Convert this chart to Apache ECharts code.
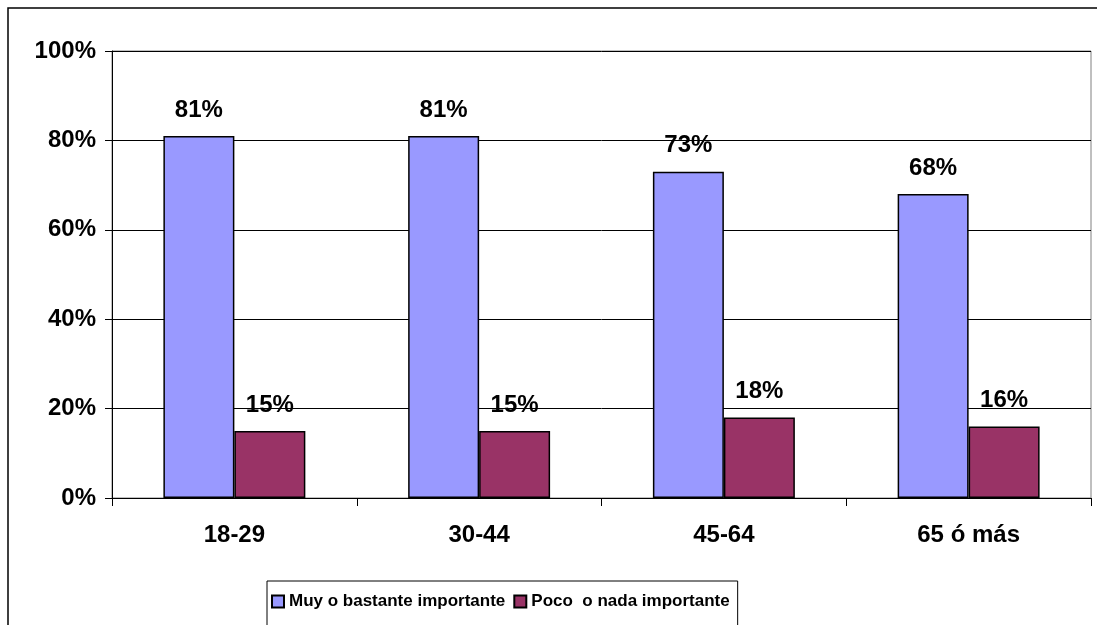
<!DOCTYPE html>
<html>
<head>
<meta charset="utf-8">
<script src="https://cdn.jsdelivr.net/npm/echarts@6/dist/echarts.min.js"></script>
<style>
html, body { margin:0; padding:0; background:#fff; }
#chart { width:1097px; height:625px; }
</style>
</head>
<body>
<div id="chart"></div>
<script>
// categorias y valores (porcentaje)
var categorias = ['18-29', '30-44', '45-64', '65 ó más'];
var muyImportante = [81, 81, 73, 68];
var pocoImportante = [15, 15, 18, 16];
var nombres = ['Muy o bastante importante', 'Poco  o nada importante'];

var chart = echarts.init(document.getElementById('chart'));
var fuente = 'Liberation Sans, Arial, sans-serif';

var etiqueta = {
    show: true,
    position: 'top',
    distance: 14,
    formatter: '{c}%',
    color: '#000',
    fontWeight: 'bold',
    fontSize: 24,
    fontFamily: fuente
};

chart.setOption({
    animation: false,
    backgroundColor: '#fff',
    graphic: [{
        type: 'rect',
        shape: { x: 8, y: 8, width: 1300, height: 1000 },
        style: { fill: 'none', stroke: '#000', lineWidth: 1.5 },
        z: -1
    }],
    grid: {
        left: 112, top: 51, right: 6, bottom: 127,
        show: true,
        borderColor: '#808080',
        borderWidth: 1
    },
    legend: {
        left: 267,
        top: 581,
        padding: [12, 8, 40, 4],
        borderColor: '#000',
        borderWidth: 1,
        itemWidth: 12,
        itemHeight: 12,
        itemGap: 8,
        icon: 'rect',
        textStyle: {
            fontFamily: 'Liberation Sans Narrow, Arial Narrow, ' + fuente,
            fontWeight: 'bold',
            fontSize: 17,
            color: '#000'
        },
        data: nombres
    },
    xAxis: {
        type: 'category',
        data: categorias,
        axisLine: { lineStyle: { color: '#000' } },
        axisTick: { show: true, length: 8, lineStyle: { color: '#000' } },
        axisLabel: {
            margin: 25,
            color: '#000',
            fontWeight: 'bold',
            fontSize: 24,
            fontFamily: fuente
        }
    },
    yAxis: {
        type: 'value',
        min: 0,
        max: 100,
        interval: 20,
        axisLine: { show: true, lineStyle: { color: '#000' } },
        axisTick: { show: true, length: 7, lineStyle: { color: '#000' } },
        splitLine: { lineStyle: { color: '#000', width: 1 } },
        axisLabel: {
            formatter: '{value}%',
            margin: 16,
            color: '#000',
            fontWeight: 'bold',
            fontSize: 24,
            fontFamily: fuente
        }
    },
    series: [{
        name: nombres[0],
        type: 'bar',
        data: muyImportante,
        barGap: '0%',
        barCategoryGap: '42%',
        itemStyle: { color: '#9999FF', borderColor: '#000', borderWidth: 1.5 },
        label: etiqueta
    }, {
        name: nombres[1],
        type: 'bar',
        data: pocoImportante,
        itemStyle: { color: '#993366', borderColor: '#000', borderWidth: 1.5 },
        label: etiqueta
    }]
});
</script>
</body>
</html>
